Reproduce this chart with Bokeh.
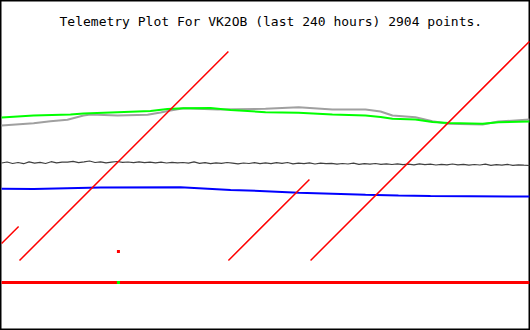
import numpy as np
from bokeh.plotting import figure
from bokeh.models import Range1d, Label
from bokeh.embed import file_html
from bokeh.resources import INLINE

title_text = "Telemetry Plot For VK2OB (last 240 hours) 2904 points."

# hours since start of window, values in raw telemetry units
green_h = [0.5, 15, 31.7, 37.6, 53, 67.9, 75.6, 82.9, 95.1, 104.2, 120, 135,
           150.3, 165.3, 172.1, 177.5, 187.9, 195.6, 202.9, 218.3, 225.5, 239.5]
green_v = [213, 215, 216, 217, 218.3, 219.5, 221.5, 222.3, 222.5, 220.5, 218.3, 217.7,
           216, 215, 213.5, 211.7, 211, 208.5, 207.5, 206.7, 208.3, 209]

gray_h = [0.5, 15, 22.6, 30.3, 37.6, 40.8, 53, 66.6, 72.5, 77, 82.9, 98.3,
          120, 135, 150.3, 165.3, 172.1, 177.5, 187.9, 195.6, 202.9, 218.3, 225.5, 239.5]
gray_v = [205, 207.3, 209.3, 210.7, 215, 216, 215, 215.7, 218, 220, 222.3, 221,
          221.7, 223.3, 221, 221, 219, 215, 213.3, 209.3, 206.7, 206, 209, 211]

blue_h = [0.5, 15, 45.3, 81.5, 104.2, 120, 135, 150.3, 165.3, 180.2, 194.7, 239.5]
blue_v = [141.7, 141.5, 143, 143.3, 140.5, 139.3, 137.7, 136.7, 135.7, 135, 134.5, 134]

black_v = [167.5, 168.5, 167, 168, 166.8, 168.6, 167.4, 168.2, 167, 168.8, 167.6, 168.4,
           168.3, 169.2, 167.8, 168.6, 169.5, 168, 168.7, 167.6, 168.4, 169, 168.1, 168.5,
           167.9, 168.6, 167.8, 168.4, 167.7, 168.3, 167.5, 168.2, 167.6, 168, 167.4, 168.6,
           167.2, 167.9, 166.8, 167.6, 167.1, 168, 167.3, 166.6, 167.5, 167, 167.8, 166.9,
           167.6, 166.9, 167.8, 167.1, 168, 166.7, 167.4, 166.8, 167.6, 166.5, 167.3, 166.8,
           167.2, 166.3, 167, 166.5, 167.3, 166.1, 166.8, 166.4, 167, 166.2, 166.7, 166,
           166.6, 165.8, 166.4, 165.6, 166.7, 165.9, 166.3, 165.5, 166.2, 165.7, 166.5, 165.6,
           166.1, 165.3, 166, 165.5, 166.3, 165.2, 165.8, 165.4, 166.1, 165.1, 165.7, 165.3, 165]
black_h = np.linspace(0.5, 239.5, len(black_v))

# counter channel (sawtooth), NaN marks a reset
red_h = [0.5, 8.2, np.nan, 8.6, 103.2, np.nan, 103.2, 139.9, np.nan, 140.4, 239.5]
red_v = [87, 104, np.nan, 70, 279, np.nan, 70, 151, np.nan, 70, 289]

flat_h = [0.5, 239.5]
flat_v = [48, 48]

dot_red_h = [53.4]
dot_red_v = [79]
dot_green_h = [53.4]
dot_green_v = [48]

p = figure(width=530, height=330, output_backend="svg", toolbar_location=None,
           x_range=Range1d(0, 240), y_range=Range1d(0, 330),
           min_border=0, min_border_left=0, min_border_right=0,
           min_border_top=0, min_border_bottom=0)
p.axis.visible = False
p.grid.visible = False
p.background_fill_color = "white"
p.border_fill_color = "white"
p.outline_line_color = "black"
p.outline_line_width = 2

p.line(flat_h, flat_v, line_color="#ff0000", line_width=3)
p.line(gray_h, gray_v, line_color="#a0a0a0", line_width=2)
p.line(green_h, green_v, line_color="#00ff00", line_width=2)
p.line(black_h, black_v, line_color="#404040", line_width=1.2)
p.line(blue_h, blue_v, line_color="#0000ff", line_width=2)
p.line(red_h, red_v, line_color="#ff0000", line_width=1.5)
p.scatter(dot_red_h, dot_red_v, marker="square", size=3, fill_color="#ff0000", line_color=None)
p.scatter(dot_green_h, dot_green_v, marker="square", size=3, fill_color="#00ff00", line_color=None)

p.add_layout(Label(x=59, y=309, x_units="screen", y_units="screen", text=title_text,
                   text_font="DejaVu Sans Mono", text_font_size="13px",
                   text_color="black", text_baseline="alphabetic"))

open("out.html", "w").write(file_html(p, INLINE))
